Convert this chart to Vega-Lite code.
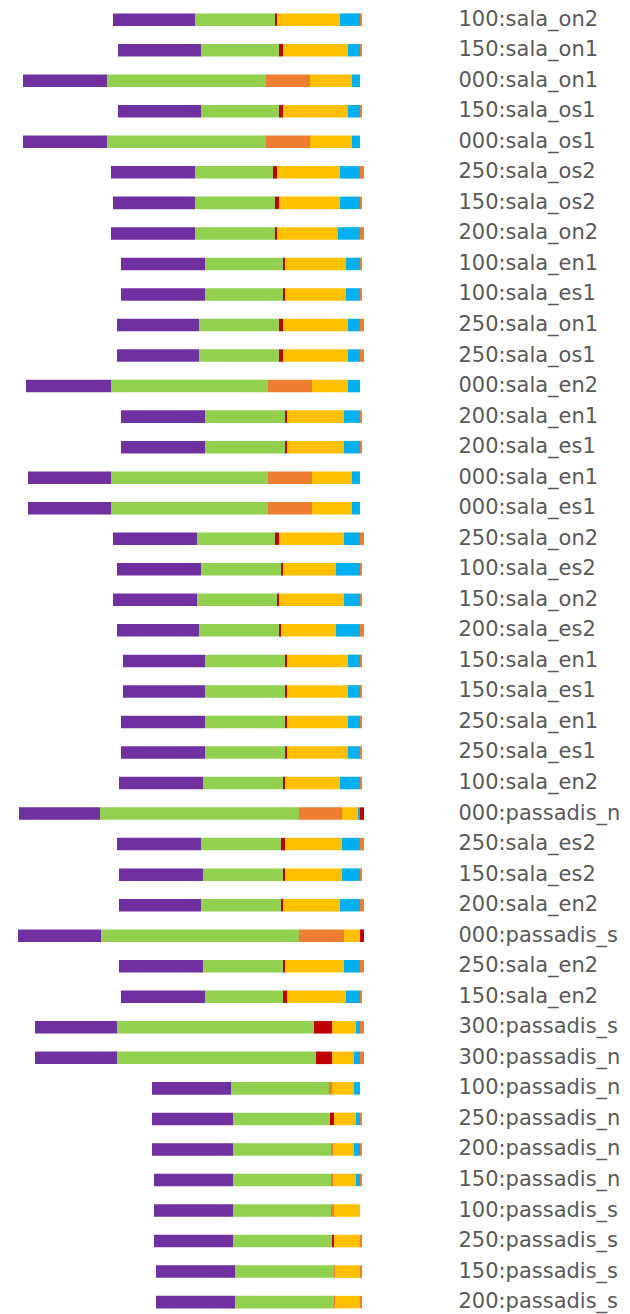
{
  "$schema": "https://vega.github.io/schema/vega-lite/v6.json",
  "width": 365,
  "height": 1313,
  "padding": {"left": 0, "top": 4.4, "right": 0, "bottom": 0},
  "background": "white",
  "config": {"view": {"stroke": null}},
  "data": {
    "values": [
      {"label": "100:sala_on2", "A": -41, "B": -40, "D": -1, "E": -31.5, "F": -10, "G": 1},
      {"label": "150:sala_on1", "A": -41.5, "B": -39, "D": -2, "E": -32.5, "F": -6, "G": 1},
      {"label": "000:sala_on1", "A": -42, "B": -79.5, "C": -22, "E": -21, "F": -4},
      {"label": "150:sala_os1", "A": -41.5, "B": -39, "D": -2, "E": -32.5, "F": -6, "G": 1},
      {"label": "000:sala_os1", "A": -42, "B": -79.5, "C": -22, "E": -21, "F": -4},
      {"label": "250:sala_os2", "A": -42, "B": -39, "D": -2, "E": -31.5, "F": -10, "G": 2},
      {"label": "150:sala_os2", "A": -41, "B": -40, "D": -2, "E": -30.5, "F": -10, "G": 1},
      {"label": "200:sala_on2", "A": -42, "B": -40, "D": -1, "E": -30.5, "F": -11, "G": 2},
      {"label": "100:sala_en1", "A": -42, "B": -39, "D": -1, "E": -30.5, "F": -7, "G": 1},
      {"label": "100:sala_es1", "A": -42, "B": -39, "D": -1, "E": -30.5, "F": -7, "G": 1},
      {"label": "250:sala_on1", "A": -41, "B": -40, "D": -2, "E": -32.5, "F": -6, "G": 2},
      {"label": "250:sala_os1", "A": -41, "B": -40, "D": -2, "E": -32.5, "F": -6, "G": 2},
      {"label": "000:sala_en2", "A": -42.5, "B": -78.5, "C": -22, "E": -18, "F": -6},
      {"label": "200:sala_en1", "A": -42, "B": -40, "D": -1, "E": -28.5, "F": -8, "G": 1},
      {"label": "200:sala_es1", "A": -42, "B": -40, "D": -1, "E": -28.5, "F": -8, "G": 1},
      {"label": "000:sala_en1", "A": -41.5, "B": -78.5, "C": -22, "E": -20, "F": -4},
      {"label": "000:sala_es1", "A": -41.5, "B": -78.5, "C": -22, "E": -20, "F": -4},
      {"label": "250:sala_on2", "A": -42, "B": -39, "D": -2, "E": -32.5, "F": -8, "G": 2},
      {"label": "100:sala_es2", "A": -42, "B": -40, "D": -1, "E": -26.5, "F": -12, "G": 1},
      {"label": "150:sala_on2", "A": -42, "B": -40, "D": -1, "E": -32.5, "F": -8, "G": 1},
      {"label": "200:sala_es2", "A": -41, "B": -40, "D": -1, "E": -27.5, "F": -12, "G": 2},
      {"label": "150:sala_en1", "A": -41, "B": -40, "D": -1, "E": -30.5, "F": -6, "G": 1},
      {"label": "150:sala_es1", "A": -41, "B": -40, "D": -1, "E": -30.5, "F": -6, "G": 1},
      {"label": "250:sala_en1", "A": -42, "B": -40, "D": -1, "E": -30.5, "F": -6, "G": 1},
      {"label": "250:sala_es1", "A": -42, "B": -40, "D": -1, "E": -30.5, "F": -6, "G": 1},
      {"label": "100:sala_en2", "A": -42, "B": -40, "D": -1, "E": -27.5, "F": -10, "G": 1},
      {"label": "000:passadis_n", "A": -40.5, "B": -99.5, "C": -21.5, "E": -8, "F": -1, "H": 2},
      {"label": "250:sala_es2", "A": -42, "B": -40, "D": -2, "E": -28.5, "F": -9, "G": 2},
      {"label": "150:sala_es2", "A": -42, "B": -40, "D": -1, "E": -28.5, "F": -9, "G": 1},
      {"label": "200:sala_en2", "A": -41, "B": -40, "D": -1, "E": -28.5, "F": -10, "G": 2},
      {"label": "000:passadis_s", "A": -41.5, "B": -99, "C": -22.5, "E": -8, "H": 2},
      {"label": "250:sala_en2", "A": -42, "B": -40, "D": -1, "E": -29.5, "F": -8, "G": 2},
      {"label": "150:sala_en2", "A": -42, "B": -39, "D": -2, "E": -29.5, "F": -7, "G": 1},
      {"label": "300:passadis_s", "A": -41, "B": -98.5, "D": -9, "E": -12, "F": -2, "G": 2},
      {"label": "300:passadis_n", "A": -41, "B": -99.5, "D": -8, "E": -11, "F": -3, "G": 2},
      {"label": "100:passadis_n", "A": -39.5, "B": -49, "C": -1.5, "E": -11, "F": -3},
      {"label": "250:passadis_n", "A": -40.5, "B": -48.5, "D": -2, "E": -11, "F": -2, "G": 1},
      {"label": "200:passadis_n", "A": -40.5, "B": -49, "C": -1, "E": -10.5, "F": -3, "G": 1},
      {"label": "150:passadis_n", "A": -39.5, "B": -49, "C": -1, "E": -11.5, "F": -2, "G": 1},
      {"label": "100:passadis_s", "A": -39.5, "B": -49, "C": -1.5, "E": -13},
      {"label": "250:passadis_s", "A": -39.5, "B": -49.5, "D": -1, "E": -13, "G": 1},
      {"label": "150:passadis_s", "A": -39.5, "B": -49.5, "C": -0.5, "E": -12.5, "G": 1},
      {"label": "200:passadis_s", "A": -39.5, "B": -49.5, "C": -0.5, "E": -12.5, "G": 1}
    ]
  },
  "transform": [
    {"fold": ["A", "B", "C", "D", "E", "F", "G", "H"], "as": ["cat", "v"]},
    {"filter": "isValid(datum.v)"}
  ],
  "mark": {"type": "bar"},
  "encoding": {
    "y": {
      "field": "label",
      "type": "nominal",
      "sort": null,
      "scale": {"paddingInner": 0.59, "paddingOuter": 0.295},
      "axis": {
        "orient": "right",
        "title": null,
        "domain": false,
        "ticks": false,
        "tickSize": 0,
        "labelPadding": 93,
        "labelFont": "DejaVu Sans",
        "labelFontSize": 21,
        "labelColor": "#595959",
        "labelLimit": 0
      }
    },
    "x": {
      "field": "v",
      "type": "quantitative",
      "stack": "zero",
      "scale": {"domain": [-180, 2.5], "nice": false, "zero": false},
      "axis": null
    },
    "color": {
      "field": "cat",
      "type": "nominal",
      "scale": {
        "domain": ["A", "B", "C", "D", "E", "F", "G", "H"],
        "range": ["#7030A0", "#92D050", "#ED7D31", "#C00000", "#FFC000", "#00B0F0", "#ED7D31", "#C00000"]
      },
      "legend": null
    },
    "order": {"field": "cat", "sort": "descending"}
  }
}
